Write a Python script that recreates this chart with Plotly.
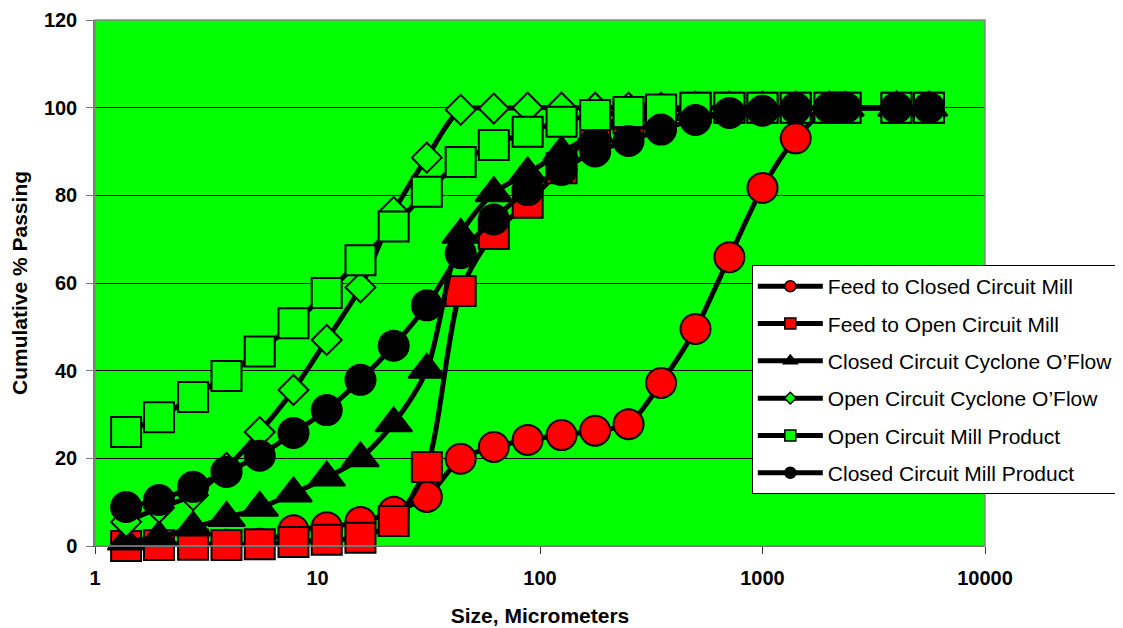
import plotly.graph_objects as go

sizes = [1.38, 1.94, 2.76, 3.9, 5.5, 7.8, 11, 15.6, 22, 31, 44, 62, 88, 125,
         177, 250, 350, 500, 710, 1000, 1410, 2000, 2360, 4000, 5600]

feed_closed = [0.3, 0.5, 0.5, 0.3, 0.5, 3.6, 4.3, 5.5, 7.8, 11.2, 19.9, 22.6, 24.2,
               25.3, 26.3, 27.8, 37.2, 49.5, 65.9, 81.7, 93.0, 100, 100, 100, 100]
feed_open = [0.0, 0.2, 0.3, 0.2, 0.4, 0.9, 1.4, 1.9, 5.7, 18.0, 58.2, 71.2, 78.3,
             86.2, 95.4, 97.6, 99.2, 100, 100, 100, 100, 100, 100, 100, 100]
cc_cyclone = [1.0, 2.0, 4.2, 6.4, 8.7, 12.0, 15.6, 20.0, 28.0, 40.2, 71.0, 80.5,
              85.0, 89.8, 94.0, 97.0, 99.0, 100, 100, 100, 100, 100, 100, 100, 100]
oc_cyclone = [5.5, 8.7, 11.6, 17.8, 26.0, 35.6, 47.0, 59.0, 76.2, 88.6, 99.5, 99.8,
              100, 100, 100, 100, 100, 100, 100, 100, 100, 100, 100, 100, 100]
oc_product = [26.0, 29.4, 34.0, 38.8, 44.4, 50.8, 57.7, 65.2, 72.9, 80.8, 87.6, 91.5,
              94.5, 96.8, 98.3, 99.0, 99.6, 100, 100, 100, 100, 100, 100, 100, 100]
cc_product = [8.9, 10.5, 13.5, 16.9, 20.6, 25.8, 31.0, 37.9, 45.7, 54.9, 66.8, 74.5,
              81.2, 85.8, 90.0, 92.4, 95.0, 97.2, 98.8, 99.3, 99.9, 100, 100, 100, 100]

series = [
    ("Feed to Closed Circuit Mill", feed_closed, "circle", 30, "#FF0000"),
    ("Feed to Open Circuit Mill", feed_open, "square", 30, "#FF0000"),
    ("Closed Circuit Cyclone O\u2019Flow", cc_cyclone, "triangle-up", 32, "#000000"),
    ("Open Circuit Cyclone O\u2019Flow", oc_cyclone, "diamond", 23, "#00FF00"),
    ("Open Circuit Mill Product", oc_product, "square", 30, "#00FF00"),
    ("Closed Circuit Mill Product", cc_product, "circle", 30, "#000000"),
]
legend_marker_sizes = {"circle": 11, "square": 11, "triangle-up": 12, "diamond": 9}

FONT = "Liberation Sans, Arial, Helvetica, sans-serif"

fig = go.Figure()
for name, vals, sym, sz, col in series:
    fig.add_trace(go.Scatter(
        x=sizes, y=vals, name=name, mode="lines+markers", showlegend=False,
        line=dict(color="black", width=5, shape="spline", smoothing=0.8),
        marker=dict(symbol=sym, size=sz, color=col, line=dict(color="black", width=2)),
        cliponaxis=False,
    ))
# legend entries (small markers like the original legend)
for name, vals, sym, sz, col in series:
    fig.add_trace(go.Scatter(
        x=[None], y=[None], name=name, mode="lines+markers", legendgroup=name,
        line=dict(color="black", width=5),
        marker=dict(symbol=sym, size=legend_marker_sizes[sym], color=col,
                    line=dict(color="black", width=1.5)),
    ))

fig.update_layout(
    width=1115, height=620,
    margin=dict(l=87, r=138, t=12, b=82, autoexpand=False),
    paper_bgcolor="white",
    plot_bgcolor="#00FF00",
    font=dict(family=FONT, color="black"),
    showlegend=True,
    legend=dict(
        x=0.738, y=0.534, xanchor="left", yanchor="top",
        bgcolor="white", bordercolor="black", borderwidth=1,
        font=dict(family=FONT, size=21, color="black"),
        itemwidth=65, tracegroupgap=7,
    ),
    xaxis=dict(
        type="log", range=[0, 4], automargin=False,
        tickvals=[1, 10, 100, 1000, 10000],
        ticktext=["1", "10", "100", "1000", "10000"],
        showgrid=False, zeroline=False,
        showline=True, linecolor="#333333", linewidth=1,
        ticks="outside", ticklen=7, tickcolor="#333333",
        tickfont=dict(family=FONT, size=20, color="black", weight="bold"),
        ticklabelstandoff=7,
        title=dict(text="<b>Size, Micrometers</b>", font=dict(family=FONT, size=21), standoff=20),
    ),
    yaxis=dict(
        range=[0, 120], tickvals=[0, 20, 40, 60, 80, 100, 120], automargin=False,
        showgrid=True, gridcolor="black", gridwidth=1, zeroline=False,
        showline=True, linecolor="#777777", linewidth=1.5,
        ticks="outside", ticklen=7, tickcolor="#777777",
        tickfont=dict(family=FONT, size=20, color="black", weight="bold"),
        ticklabelstandoff=5,
        title=dict(text="<b>Cumulative % Passing</b>", font=dict(family=FONT, size=21), standoff=11),
    ),
    shapes=[dict(type="rect", xref="paper", yref="paper", x0=0, y0=0, x1=1, y1=1,
                 line=dict(color="#888888", width=1.5), layer="above")],
)

fig.write_html("out.html")
